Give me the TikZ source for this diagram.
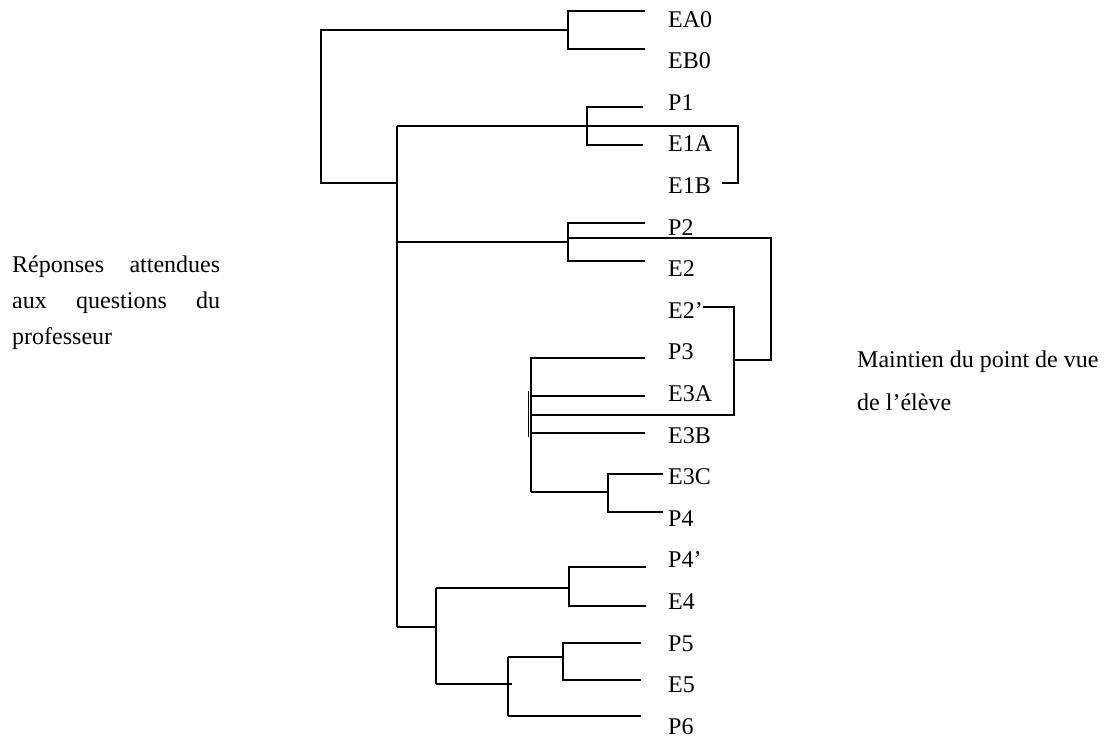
\documentclass[tikz,border=0pt]{standalone}
\usepackage{fontspec}
\setmainfont{Liberation Serif}
\begin{document}
\begin{tikzpicture}[x=1pt,y=-1pt,
  branch/.style={line width=2pt, line join=miter},
  leaf/.style={anchor=base west, inner sep=0pt, font=\fontsize{24}{28}\selectfont},
  note/.style={anchor=base west, inner sep=0pt, font=\fontsize{24}{28}\selectfont}]
\useasboundingbox (0,0) rectangle (1110,740);

% leaf labels
\foreach \n/\t [count=\i from 0] in {EA0/EA0, EB0/EB0, P1/P1, E1A/E1A, E1B/E1B,
  P2/P2, E2/E2, E2p/E2’, P3/P3, E3A/E3A, E3B/E3B, E3C/E3C, P4/P4, P4p/P4’,
  E4/E4, P5/P5, E5/E5, P6/P6}
  \node[leaf] (\n) at (668,{27+41.6*\i}) {\t};

% side texts
\node[note] (left1) at (12,272) {\makebox[208pt][s]{Réponses attendues}};
\node[note] (left2) at (12,308) {\makebox[208pt][s]{aux questions du}};
\node[note] (left3) at (12,344) {professeur};
\node[note] (right1) at (857,367) {Maintien du point de vue};
\node[note] (right2) at (857,410) {de l’élève};

% cluster EA0/EB0
\coordinate (c0t) at (568,11);  \coordinate (c0b) at (568,49);
\coordinate (c0m) at (568,30);
\coordinate (l0a) at (645,11);  \coordinate (l0b) at (645,49);
\draw[branch] (l0a) -- (c0t) -- (c0b) -- (l0b);
% root
\coordinate (r0) at (321,30); \coordinate (r1) at (321,183);
\coordinate (m0) at (397,183);
\draw[branch] (c0m) -- (r0) -- (r1) -- (m0);
% main vertical
\coordinate (mt) at (397,126); \coordinate (mb) at (397,627);
\draw[branch] (mt) -- (mb);

% cluster P1/E1A
\coordinate (c1t) at (587,107); \coordinate (c1b) at (587,145);
\coordinate (l1a) at (643,107); \coordinate (l1b) at (643,145);
\draw[branch] (l1a) -- (c1t) -- (c1b) -- (l1b);
\coordinate (k1) at (738,126); \coordinate (k2) at (738,183);
\coordinate (k3) at (722,183);
\draw[branch] (mt) -- (k1) -- (k2) -- (k3);

% cluster P2/E2
\coordinate (c2t) at (568,223); \coordinate (c2b) at (568,261);
\coordinate (l2a) at (645,223); \coordinate (l2b) at (645,261);
\draw[branch] (l2a) -- (c2t) -- (c2b) -- (l2b);
\coordinate (m2) at (397,242); \coordinate (c2m) at (568,242);
\draw[branch] (m2) -- (c2m);
\coordinate (j0) at (568,238); \coordinate (j1) at (771,238);
\coordinate (j2) at (771,360); \coordinate (j3) at (734,360);
\draw[branch] (j0) -- (j1) -- (j2) -- (j3);

% E2' bracket
\coordinate (e0) at (703,307); \coordinate (e1) at (734,307);
\coordinate (e2) at (734,415); \coordinate (e3) at (531,415);
\draw[branch] (e0) -- (e1) -- (e2) -- (e3);

% cluster P3/E3A/E3B
\coordinate (c3t) at (531,358); \coordinate (c3b) at (531,492);
\coordinate (c3a) at (531,396); \coordinate (c3c) at (531,433);
\coordinate (l3a) at (645,358); \coordinate (l3b) at (645,396);
\coordinate (l3c) at (645,433);
\draw[branch] (l3a) -- (c3t) -- (c3b);
\draw[branch] (c3a) -- (l3b);
\draw[branch] (c3c) -- (l3c);
\coordinate (d0) at (528.5,391); \coordinate (d1) at (528.5,437);
\draw[line width=1.4pt] (d0) -- (d1);
\coordinate (c4m) at (608,492);
\draw[branch] (c3b) -- (c4m);

% cluster E3C/P4
\coordinate (c4t) at (608,474); \coordinate (c4b) at (608,512);
\coordinate (l4a) at (663,474); \coordinate (l4b) at (663,512);
\draw[branch] (l4a) -- (c4t) -- (c4b) -- (l4b);

% lower part
\coordinate (n0) at (436,627);
\draw[branch] (mb) -- (n0);
\coordinate (n1) at (436,588); \coordinate (n2) at (436,684);
\draw[branch] (n1) -- (n2);
\coordinate (c5m) at (569,588);
\draw[branch] (n1) -- (c5m);
\coordinate (c5t) at (569,567); \coordinate (c5b) at (569,606);
\coordinate (l5a) at (646,567); \coordinate (l5b) at (646,606);
\draw[branch] (l5a) -- (c5t) -- (c5b) -- (l5b);
\coordinate (n3) at (512,684);
\draw[branch] (n2) -- (n3);
\coordinate (c6t) at (508,657); \coordinate (c6b) at (508,716);
\draw[branch] (c6t) -- (c6b);
\coordinate (c7m) at (563,657);
\draw[branch] (c6t) -- (c7m);
\coordinate (c7t) at (563,643); \coordinate (c7b) at (563,680);
\coordinate (l7a) at (641,643); \coordinate (l7b) at (641,680);
\draw[branch] (l7a) -- (c7t) -- (c7b) -- (l7b);
\coordinate (l6) at (641,716);
\draw[branch] (c6b) -- (l6);
\end{tikzpicture}
\end{document}
